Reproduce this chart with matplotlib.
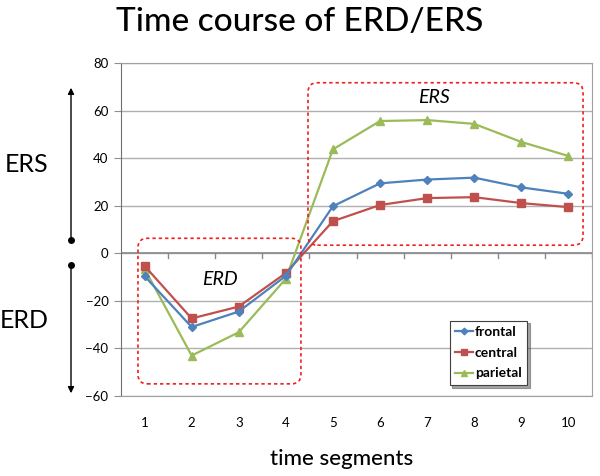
import matplotlib
matplotlib.use("Agg")
import matplotlib.pyplot as plt
from matplotlib.patches import FancyBboxPatch, FancyArrowPatch
from matplotlib.lines import Line2D
import numpy as np

# -- Data --------------------------------------------------------------------
segments = [1, 2, 3, 4, 5, 6, 7, 8, 9, 10]
frontal = [-9.6, -31, -24.5, -9.5, 19.8, 29.4, 31.0, 31.8, 27.7, 25.0]
central = [-5.3, -27.4, -22.4, -8.3, 13.5, 20.3, 23.2, 23.6, 21.1, 19.4]
parietal = [-6.5, -43.0, -33.2, -10.7, 43.7, 55.6, 56.0, 54.4, 46.8, 40.9]
y_ticks = [-60, -40, -20, 0, 20, 40, 60, 80]

BLUE = "#4F81BD"
RED = "#C0504D"
GREEN = "#9BBB59"
BOXRED = "#F02020"
FONT = "Lato"

fig = plt.figure(figsize=(6.0, 4.76), dpi=100)
fig.patch.set_facecolor("white")
ax = fig.add_axes([121 / 600, 1 - 396 / 476, 471 / 600, 333 / 476])

x = np.array(segments)
ax.plot(x, frontal, color=BLUE, lw=1.6, marker="D", ms=4.5, label="frontal", zorder=4)
ax.plot(x, central, color=RED, lw=1.6, marker="s", ms=5.5, label="central", zorder=3)
ax.plot(x, parietal, color=GREEN, lw=1.6, marker="^", ms=6, label="parietal", zorder=2)

ax.set_xlim(0.5, 10.5)
ax.set_ylim(-60, 80)
ax.set_yticks(y_ticks)
ax.set_xticks(segments)
ax.yaxis.grid(True, color="#B0B0B0", lw=1)
ax.set_axisbelow(True)

for side in ["top", "right", "bottom"]:
    ax.spines[side].set_color("#A0A0A0")
ax.spines["left"].set_color("#707070")

ax.tick_params(axis="y", length=5, color="#909090", labelsize=9.5, pad=4)
ax.tick_params(axis="x", length=0, labelsize=9.5, pad=15)
for lab in ax.get_xticklabels() + ax.get_yticklabels():
    lab.set_fontfamily(FONT)

# zero line with category boundary ticks
ax.axhline(0, color="#8A8A8A", lw=1.2, zorder=1)
for b in np.arange(1.5, 11.0, 1.0):
    ax.plot([b, b], [0, -1.8], color="#8A8A8A", lw=1, zorder=1)

# dashed regions
y_scale = (471 / 10) / (333 / 140)
erd = FancyBboxPatch((0.86, -54.9), 4.32 - 0.86, 6.3 + 54.9,
                     boxstyle="round,pad=0,rounding_size=0.2",
                     mutation_aspect=y_scale, fill=False, ec=BOXRED,
                     lw=1.2, ls=(0, (2, 1.8)), zorder=5)
ers = FancyBboxPatch((4.47, 3.4), 10.31 - 4.47, 71.7 - 3.4,
                     boxstyle="round,pad=0,rounding_size=0.2",
                     mutation_aspect=y_scale, fill=False, ec=BOXRED,
                     lw=1.2, ls=(0, (2, 1.8)), zorder=5)
ax.add_patch(erd)
ax.add_patch(ers)
ax.text(2.6, -11, "ERD", style="italic", fontsize=14, ha="center",
        va="center", fontfamily=FONT)
ax.text(7.15, 65.5, "ERS", style="italic", fontsize=14, ha="center",
        va="center", fontfamily=FONT)

leg = ax.legend(loc="lower right", frameon=True, fancybox=False,
                shadow=True, handlelength=1.3, handletextpad=0.1,
                borderpad=0.4, borderaxespad=0, labelspacing=0.62,
                markerscale=0.75,
                prop={"family": FONT, "weight": "bold", "size": 10})
leg.get_frame().set_edgecolor("#404040")
leg.get_frame().set_linewidth(0.8)
leg.set_bbox_to_anchor(((527 - 121) / 471, (396 - 385) / 333), transform=ax.transAxes)

# title and labels
fig.text(0.5, 1 - 22 / 476, "Time course of ERD/ERS", ha="center", va="center",
         fontsize=24, fontfamily=FONT, fontweight="medium")
fig.text(342 / 600, 1 - 459 / 476, "time segments", ha="center", va="center",
         fontsize=16, fontfamily=FONT, fontweight="medium")
fig.text(27 / 600, 1 - 165 / 476, "ERS", ha="center", va="center",
         fontsize=18, fontfamily=FONT)
fig.text(24 / 600, 1 - 320 / 476, "ERD", ha="center", va="center",
         fontsize=18, fontfamily=FONT)

# side arrows
ax_x = 71 / 600
fig.add_artist(FancyArrowPatch(
    (ax_x, 1 - 240 / 476), (ax_x, 1 - 85 / 476), transform=fig.transFigure,
    arrowstyle="-|>", mutation_scale=9, color="black", lw=1))
fig.add_artist(FancyArrowPatch(
    (ax_x, 1 - 265 / 476), (ax_x, 1 - 396 / 476), transform=fig.transFigure,
    arrowstyle="-|>", mutation_scale=9, color="black", lw=1))
fig.add_artist(Line2D([ax_x, ax_x], [1 - 240 / 476, 1 - 265 / 476],
                      transform=fig.transFigure, ls="none",
                      marker="o", ms=4, color="black"))

fig.savefig("out.png", dpi=100, facecolor="white")
